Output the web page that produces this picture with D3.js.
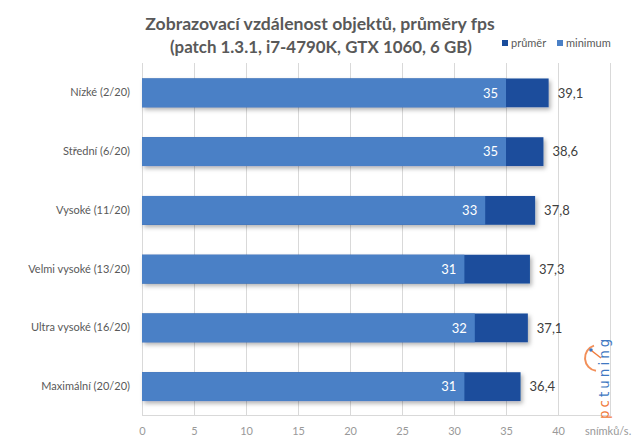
<!DOCTYPE html>
<html><head><meta charset="utf-8">
<script src="https://cdn.jsdelivr.net/npm/d3@7"></script>
<style>body{margin:0;background:#fff}svg{display:block}</style>
</head><body>
<script>
const categories = ["Nízké (2/20)","Střední (6/20)","Vysoké (11/20)","Velmi vysoké (13/20)","Ultra vysoké (16/20)","Maximální (20/20)"];
const prumer = [39.1,38.6,37.8,37.3,37.1,36.4];
const minimum = [35,35,33,31,32,31];
const xTicks = [0,5,10,15,20,25,30,35,40];
const titleLines = ["Zobrazovací vzdálenost objektů, průměry fps","(patch 1.3.1, i7-4790K, GTX 1060, 6 GB)"];
const seriesNames = ["průměr","minimum"];

const W=639,H=448;
const colDark="#1a4d9c", colLight="#4a80c6";
const svg=d3.select("body").append("svg").attr("width",W).attr("height",H);
svg.append("rect").attr("width",W).attr("height",H).attr("fill","#fff");
const defs=svg.append("defs");
const f=defs.append("filter").attr("id","sh").attr("x","-5%").attr("y","-20%").attr("width","115%").attr("height","160%");
f.append("feDropShadow").attr("dx",2).attr("dy",2.5).attr("stdDeviation",2).attr("flood-color","#000").attr("flood-opacity",0.3);

const x=d3.scaleLinear().domain([0,45]).range([142,610]);
const y=d3.scaleBand().domain(categories).range([63.5,416]).paddingInner(0.51).paddingOuter(0.255);

// grid
svg.append("g").selectAll("line").data(d3.range(0,50,5)).join("line")
 .attr("x1",d=>x(d)+0.5).attr("x2",d=>x(d)+0.5).attr("y1",63).attr("y2",416)
 .attr("stroke","#d9d9d9").attr("stroke-width",1);
svg.append("line").attr("x1",142).attr("x2",x(45)+0.5).attr("y1",415.5).attr("y2",415.5).attr("stroke","#d9d9d9");

// axis
const ax=svg.append("g").attr("transform","translate(0,431)").call(d3.axisBottom(x).tickValues(xTicks).tickSize(0).tickPadding(0));
ax.select(".domain").remove();
ax.selectAll("text").attr("font-family","Lato, 'Open Sans', sans-serif").attr("font-size",11).attr("fill","#999").attr("dy","0.35em");
svg.append("text").attr("x",x(45)-25).attr("y",431).attr("dy","0.35em").attr("font-family","Lato, sans-serif").attr("font-size",11).attr("fill","#999").text("snímků/s.");

// y labels
const ya=svg.append("g").attr("transform","translate(130,0)").call(d3.axisLeft(y).tickSize(0).tickPadding(0));
ya.select(".domain").remove();
ya.selectAll("text").attr("font-family","Lato, sans-serif").attr("font-size",11).attr("fill","#595959");

// bars
const g=svg.append("g");
categories.forEach((c,i)=>{
  g.append("rect").attr("x",x(0)).attr("y",y(c)).attr("width",x(prumer[i])-x(0)).attr("height",y.bandwidth()).attr("fill",colDark).attr("filter","url(#sh)");
  g.append("rect").attr("x",x(0)).attr("y",y(c)).attr("width",x(minimum[i])-x(0)).attr("height",y.bandwidth()).attr("fill",colLight);
  g.append("text").attr("x",x(minimum[i])-8).attr("y",y(c)+y.bandwidth()/2).attr("dy","0.36em").attr("text-anchor","end")
   .attr("font-family","Lato, sans-serif").attr("font-size",13).attr("fill","#fff").text(minimum[i]);
  g.append("text").attr("x",x(prumer[i])+9).attr("y",y(c)+y.bandwidth()/2).attr("dy","0.36em")
   .attr("font-family","Lato, sans-serif").attr("font-size",13).attr("fill","#404040").text(String(prumer[i]).replace(".",","));
});

// title
svg.append("text").attr("x",320).attr("y",30).attr("text-anchor","middle").attr("font-family","Lato, sans-serif").attr("font-weight","bold").attr("font-size",17.6).attr("fill","#595959").text(titleLines[0]);
svg.append("text").attr("x",321).attr("y",53).attr("text-anchor","middle").attr("font-family","Lato, sans-serif").attr("font-weight","bold").attr("font-size",17).attr("fill","#595959").attr("textLength",302).attr("lengthAdjust","spacingAndGlyphs").text(titleLines[1]);

// legend
const lg=svg.append("g").attr("font-family","Lato, sans-serif").attr("font-size",11).attr("fill","#595959");
[[502,colDark,0],[557,colLight,1]].forEach(([lx,c,k])=>{
  lg.append("rect").attr("x",lx).attr("y",40).attr("width",6).attr("height",6).attr("fill",c);
  lg.append("text").attr("x",lx+9).attr("y",43).attr("dy","0.35em").text(seriesNames[k]);
});

// watermark
const wm=svg.append("g").attr("transform","translate(609,419) rotate(-90)");
wm.append("text").attr("font-family","'DejaVu Sans', sans-serif").attr("font-size",13.5).attr("letter-spacing",3)
 .selectAll("tspan").data([["pc","#f07b3c"],["tuning","#3f78c2"]]).join("tspan").attr("fill",d=>d[1]).text(d=>d[0]);
svg.append("path").attr("d",d3.arc()({innerRadius:12,outerRadius:14,startAngle:Math.PI*1.05,endAngle:Math.PI*1.9})).attr("transform","translate(598,358)").attr("fill","#f07b3c").attr("opacity",0.85);
svg.append("circle").attr("cx",591).attr("cy",350).attr("r",1.8).attr("fill","#3f78c2");
svg.append("line").attr("x1",592).attr("y1",351).attr("x2",601).attr("y2",358).attr("stroke","#f07b3c").attr("stroke-width",1.5);
</script>
</body></html>
